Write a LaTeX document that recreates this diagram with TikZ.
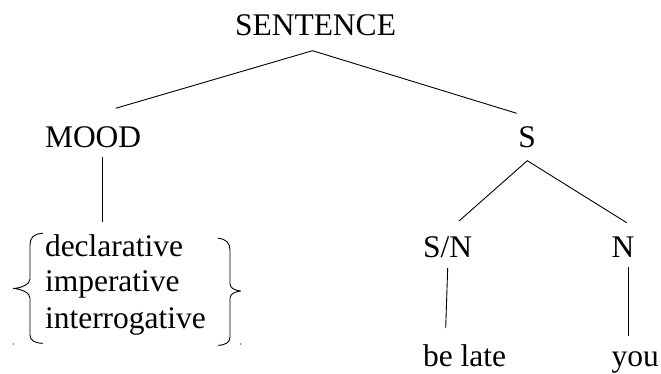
\documentclass[tikz,border=0pt]{standalone}
\usepackage{fontspec}
\setmainfont{Liberation Serif}
\begin{document}
\begin{tikzpicture}[x=1pt,y=-1pt,
  lbl/.style={anchor=base west,inner sep=0pt,outer sep=0pt,
              font=\fontsize{31.5}{36}\selectfont},
  branch/.style={line width=0.9pt,black},
  bracestroke/.style={line width=0.9pt,black,line cap=round,line join=round}]
\useasboundingbox (0,0) rectangle (661,374);

% labels
\node[lbl] (sentence) at (235,36) {SENTENCE};
\node[lbl] (mood) at (45,147.3) {MOOD};
\node[lbl] (s) at (518.3,147.3) {S};
\node[lbl] (sn) at (423,257) {S/N};
\node[lbl] (n) at (611.7,257) {N};
\node[lbl] (decl) at (45,256.7) {declarative};
\node[lbl] (imp) at (45,291.7) {imperative};
\node[lbl] (inter) at (45,328.3) {interrogative};
\node[lbl] (belate) at (423,366) {be late};
\node[lbl] (you) at (611.7,366) {you};

% attachment points of the branches
\coordinate (sentence-foot) at (312.5,50.7);
\coordinate (mood-head) at (115.7,108.3);
\coordinate (s-head) at (516.7,113.3);
\coordinate (mood-foot) at (102,156.7);
\coordinate (choice-head) at (102,221.7);
\coordinate (s-foot) at (527.3,160.7);
\coordinate (sn-head) at (459,221);
\coordinate (n-head) at (626.7,222.7);
\coordinate (sn-foot) at (447.7,268);
\coordinate (belate-head) at (445.7,328);
\coordinate (n-foot) at (628.3,266.7);
\coordinate (you-head) at (628.3,335.7);

% branches
\draw[branch] (mood-head) -- (sentence-foot) -- (s-head);
\draw[branch] (mood-foot) -- (choice-head);
\draw[branch] (sn-head) -- (s-foot) -- (n-head);
\draw[branch] (sn-foot) -- (belate-head);
\draw[branch] (n-foot) -- (you-head);

% left brace
\draw[bracestroke] (42.7,233.3) .. controls (33,234) and (30,238) .. (30,245)
  -- (30,279) .. controls (30,284) and (22,288) .. (13.3,288.5)
  .. controls (22,289) and (30,293) .. (30,298)
  -- (30,335) .. controls (30,340) and (34,343) .. (42.7,343.3);
% right brace
\draw[bracestroke] (218.3,238.3) .. controls (226,239) and (230,243) .. (230,250)
  -- (230,284) .. controls (230,288) and (235,290.5) .. (240.7,291)
  .. controls (235,291.5) and (230,294) .. (230,298)
  -- (230,337) .. controls (230,342) and (226,345) .. (218.3,345.3);

% small marks below the braces
\fill (13.3,344) circle (0.6);
\fill (240.7,344) circle (0.6);
\end{tikzpicture}
\end{document}
